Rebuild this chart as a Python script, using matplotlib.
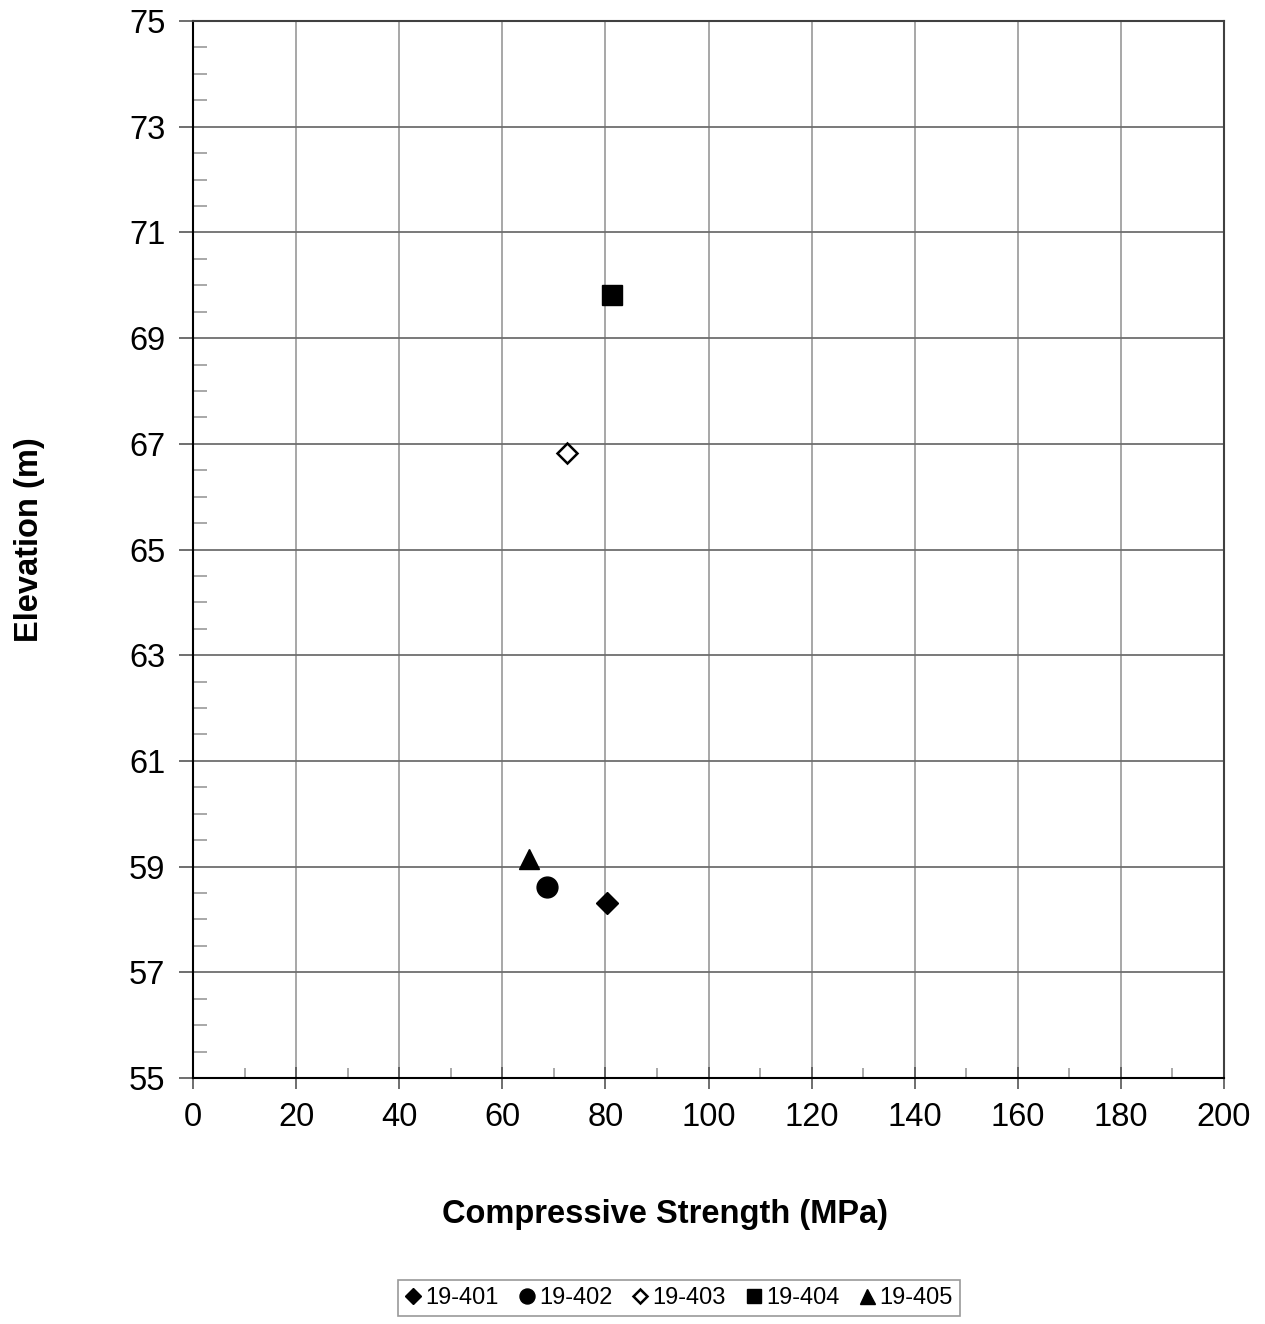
import matplotlib
matplotlib.use("Agg")
import matplotlib.pyplot as plt
from matplotlib.ticker import MultipleLocator

plt.rcParams['font.family'] = ['Liberation Sans', 'DejaVu Sans']

# Borehole samples: compressive strength (MPa) vs elevation (m)
holes = ["19-401", "19-402", "19-403", "19-404", "19-405"]
strength = [80.3, 68.6, 72.6, 81.2, 65.2]
elevation = [58.31, 58.62, 66.83, 69.82, 59.15]

styles = {
    "19-401": dict(marker="D", ms=11.5, mfc="black", mec="black"),
    "19-402": dict(marker="o", ms=15, mfc="black", mec="black"),
    "19-403": dict(marker="D", ms=10, mfc="white", mec="black", mew=1.8),
    "19-404": dict(marker="s", ms=14.5, mfc="black", mec="black"),
    "19-405": dict(marker="^", ms=15, mfc="black", mec="black"),
}

fig = plt.figure(figsize=(12.65, 13.24), dpi=100)
ax = fig.add_axes([0.1526, 0.1858, 0.815, 0.7983])

handles = []
for h, x, y in zip(holes, strength, elevation):
    ln, = ax.plot([x], [y], linestyle="none", label=h, zorder=5, **styles[h])
    handles.append(ln)

ax.set_xlim(0, 200)
ax.set_ylim(55, 75)
ax.xaxis.set_major_locator(MultipleLocator(20))
ax.xaxis.set_minor_locator(MultipleLocator(10))
ax.yaxis.set_minor_locator(MultipleLocator(0.5))
ax.set_yticks([55, 57, 59, 61, 63, 65, 67, 69, 71, 73, 75])

# grid: vertical lines lighter, horizontal lines darker
for xv in range(20, 201, 20):
    ax.axvline(xv, color="#a0a0a0", lw=1.3, zorder=1)
for yv in [57, 59, 61, 63, 65, 67, 69, 71, 73]:
    ax.axhline(yv, color="#6e6e6e", lw=1.3, zorder=1)

for s in ["left", "bottom"]:
    ax.spines[s].set_color("black")
    ax.spines[s].set_linewidth(1.5)
for s in ["top", "right"]:
    ax.spines[s].set_color("#404040")
    ax.spines[s].set_linewidth(1.5)

ax.tick_params(axis="x", which="major", direction="inout", length=16, width=1.2,
               color="#555555", labelsize=23.5, pad=9)
ax.tick_params(axis="y", which="major", direction="out", length=10, width=1.2,
               color="#555555", labelsize=23.5, pad=10)
ax.tick_params(axis="x", which="minor", direction="in", length=7, width=1.2, color="#999999")
ax.tick_params(axis="y", which="minor", direction="in", length=10, width=1.2, color="#999999")

fig.text(665 / 1265, 1 - 1215 / 1324, "Compressive Strength (MPa)", fontsize=23.5,
         fontweight="bold", ha="center", va="center")
fig.text(30 / 1265, 1 - 540 / 1324, "Elevation (m)", fontsize=23.5,
         fontweight="bold", ha="center", va="center", rotation=90)

leg = fig.legend(handles=handles, labels=holes, loc="center", bbox_to_anchor=(0.537, 0.0195),
                 ncol=5, fontsize=17, frameon=True, fancybox=False, edgecolor="#808080",
                 handlelength=0.65, handletextpad=0.2, columnspacing=0.85, borderpad=0.3,
                 markerscale=0.72)
leg.get_frame().set_linewidth(1.2)

fig.savefig("out.png", dpi=100)
